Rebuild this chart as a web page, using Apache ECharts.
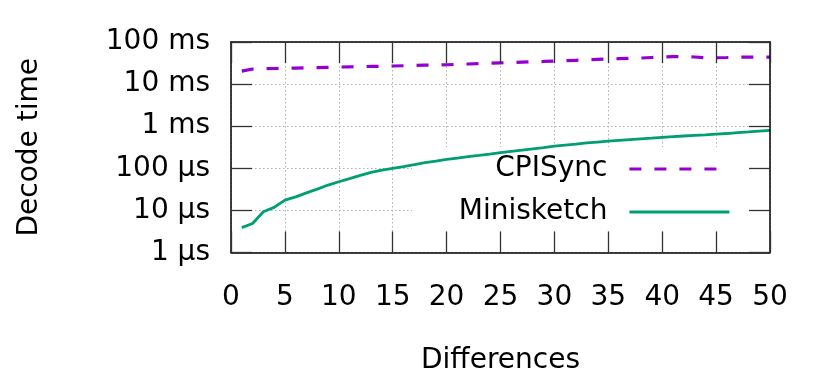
<!DOCTYPE html>
<html>
<head>
<meta charset="utf-8">
<script src="https://cdn.jsdelivr.net/npm/echarts@6/dist/echarts.min.js"></script>
<style>
html,body{margin:0;padding:0;background:#fff;}
#chart{width:830px;height:389px;}
</style>
</head>
<body>
<div id="chart"></div>
<script>
// Differences (x)
const differences = [1,2,3,4,5,6,7,8,9,10,11,12,13,14,15,16,17,18,19,20,21,22,23,24,25,26,27,28,29,30,31,32,33,34,35,36,37,38,39,40,41,42,43,44,45,46,47,48,49,50];
// Decode time in microseconds
const cpisync = [20400,22800,23200,23500,23600,24000,24300,24600,25000,25400,25700,26000,26300,26600,26900,27300,27700,28100,28500,28800,29400,30000,30600,31200,32000,32600,33200,33800,34500,35300,36000,36800,37600,38500,39400,40200,41000,41600,42800,43900,44800,45400,44000,42500,42300,42800,43500,43900,43900,43900];
const minisketch = [3.9,4.9,9.3,11.8,17.6,21,26,32,40,48,57,68,80,90,100,110,122,136,148,162,175,190,203,218,235,252,270,290,310,335,355,375,400,420,440,460,480,500,520,545,565,585,605,625,650,670,700,730,765,800];
const xTicks = [0,5,10,15,20,25,30,35,40,45,50];
const yTickLabels = ['1 µs','10 µs','100 µs','1 ms','10 ms','100 ms'];
const seriesNames = ['CPISync','Minisketch'];

const FONT = 'DejaVu Sans';
const PURPLE = '#9400d3', GREEN = '#009e73';
const chart = echarts.init(document.getElementById('chart'), null, {renderer:'canvas'});

function pairs(xs, ys){ return xs.map((x,i)=>[x, ys[i]]); }

const xBase = {type:'value', min:xTicks[0], max:xTicks[xTicks.length-1], interval:5};
const yBase = {type:'log', logBase:10, min:1, max:100000, interval:1};
const frameLine = {show:true, onZero:false, lineStyle:{color:'#000', width:1.5}};
const tick = {show:true, inside:true, length:21, lineStyle:{color:'#333', width:1.3}};
const grid = {show:true, lineStyle:{color:'#b0b0b0', width:1, type:[1.5,2.5]}};
const hidden = {show:false, onZero:false};

const option = {
  backgroundColor:'#fff',
  animation:false,
  textStyle:{fontFamily:FONT},
  grid:{left:231, top:42, width:539, height:210.5, containLabel:false},
  graphic:[{
    type:'rect', z:1,
    shape:{x:412, y:147, width:357, height:84},
    style:{fill:'#fff'}
  }],
  legend:{
    data:[
      {name:seriesNames[0], lineStyle:{width:3.2, type:[12,13], color:PURPLE}},
      {name:seriesNames[1], lineStyle:{width:2.8, type:'solid', color:GREEN}}
    ],
    orient:'vertical', right:94, top:150,
    align:'right', itemWidth:100, itemHeight:20, itemGap:15,
    itemStyle:{opacity:0},
    textStyle:{fontSize:28, color:'#000', fontFamily:FONT, padding:[0,17,0,0]},
    z:5
  },
  xAxis:[
    Object.assign({}, xBase, {
      position:'bottom', z:3,
      axisLine:frameLine, axisTick:tick,
      axisLabel:{show:true, fontSize:28, color:'#000', fontFamily:FONT, margin:31, showMinLabel:true, showMaxLabel:true},
      splitLine:{show:false},
      name:'Differences', nameLocation:'middle', nameGap:94,
      nameTextStyle:{fontSize:28, color:'#000', fontFamily:FONT}
    }),
    Object.assign({}, xBase, {
      position:'top', z:3,
      axisLine:frameLine, axisTick:tick,
      axisLabel:{show:false}, splitLine:{show:false}
    }),
    Object.assign({}, xBase, {
      position:'bottom', z:0,
      axisLine:hidden, axisTick:{show:false}, axisLabel:{show:false},
      splitLine:grid
    })
  ],
  yAxis:[
    Object.assign({}, yBase, {
      position:'left', z:3,
      axisLine:frameLine, axisTick:tick,
      axisLabel:{show:true, fontSize:28, color:'#000', fontFamily:FONT, margin:21,
        formatter:function(v){ return yTickLabels[Math.round(Math.log10(v))]; }},
      splitLine:{show:false},
      name:'Decode time', nameLocation:'middle', nameGap:187, nameRotate:90,
      nameTextStyle:{fontSize:28, color:'#000', fontFamily:FONT}
    }),
    Object.assign({}, yBase, {
      position:'right', z:3,
      axisLine:frameLine, axisTick:tick,
      axisLabel:{show:false}, splitLine:{show:false}
    }),
    Object.assign({}, yBase, {
      position:'left', z:0,
      axisLine:hidden, axisTick:{show:false}, axisLabel:{show:false},
      splitLine:grid
    })
  ],
  series:[
    {name:seriesNames[0], type:'line', xAxisIndex:0, yAxisIndex:0, z:2,
     data:pairs(differences, cpisync), symbol:'none', showSymbol:false,
     lineStyle:{color:PURPLE, width:3.2, type:[12,13]}, itemStyle:{color:PURPLE}},
    {name:seriesNames[1], type:'line', xAxisIndex:0, yAxisIndex:0, z:2,
     data:pairs(differences, minisketch), symbol:'none', showSymbol:false,
     lineStyle:{color:GREEN, width:2.8, type:'solid'}, itemStyle:{color:GREEN}}
  ]
};
chart.setOption(option);
</script>
</body>
</html>
